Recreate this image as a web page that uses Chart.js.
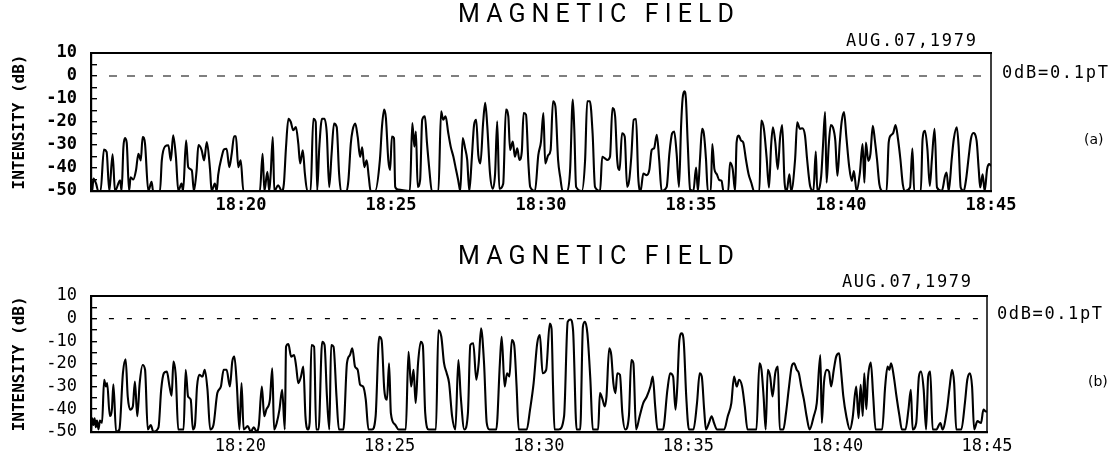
<!DOCTYPE html>
<html><head><meta charset="utf-8">
<script src="https://cdn.jsdelivr.net/npm/chart.js@4.4.1/dist/chart.umd.min.js"></script>
<style>
html,body{margin:0;padding:0;background:#fff;}
#wrap{position:relative;width:1111px;height:462px;overflow:hidden;}
canvas{position:absolute;left:0;}
#ca{top:0;}
#cb{top:231px;}
</style></head><body>
<div id="wrap"><canvas id="ca" width="1111" height="231"></canvas><canvas id="cb" width="1111" height="231"></canvas></div>
<script>
const titleText = 'MAGNETIC FIELD';
const dateText = 'AUG.07,1979';
const refText = '0dB=0.1pT';
const panelLabels = ['(a)', '(b)'];
const yAxisTitle = 'INTENSITY (dB)';
// x values are minutes after 18:15
const xTickLabels = ['', '18:20', '18:25', '18:30', '18:35', '18:40', '18:45'];
const yMin = -50, yMax = 10;
const refLevel = 0;
const refSpan = [0.6, 29.7];

const timesA = [
0,0.04,0.08,0.17,0.24,0.32,0.43,0.52,0.61,0.72,
0.8,0.97,1.02,1.08,1.13,1.19,1.27,1.32,1.41,1.5,
1.58,1.66,1.72,1.8,1.91,2.02,2.07,2.3,2.36,2.47,
2.58,2.66,2.74,2.83,2.91,3.02,3.07,3.17,3.24,3.36,
3.43,3.52,3.58,3.69,3.77,3.86,3.97,4.02,4.13,4.19,
4.24,4.36,4.43,4.52,4.61,4.69,4.77,4.83,4.91,4.99,
5.08,5.63,5.72,5.78,5.88,5.94,5.99,6.06,6.11,6.24,
6.36,6.43,6.5,6.58,6.66,6.74,6.83,6.91,6.97,7.06,
7.13,7.21,7.32,7.41,7.49,7.54,7.61,7.7,7.78,7.86,
7.94,8.02,8.1,8.19,8.27,8.33,8.52,8.58,8.66,8.72,
8.81,8.89,8.97,9.04,9.11,9.19,9.26,9.32,9.47,9.63,
9.7,9.77,9.83,9.91,9.97,10.03,10.1,10.14,10.24,10.63,
10.71,10.78,10.83,10.89,10.97,11.04,11.13,11.2,11.28,11.36,
11.58,11.67,11.74,11.82,11.91,11.99,12.08,12.17,12.24,12.31,
12.39,12.47,12.54,12.61,12.69,12.77,12.84,12.91,12.98,13.07,
13.14,13.21,13.3,13.39,13.47,13.54,13.61,13.74,13.83,13.91,
13.97,14.06,14.13,14.21,14.28,14.36,14.42,14.5,14.58,14.64,
14.8,14.91,15,15.08,15.14,15.24,15.32,15.4,15.48,15.57,
15.64,15.72,15.88,15.97,16.06,16.11,16.17,16.36,16.47,16.54,
16.63,16.72,16.8,16.97,17.04,17.13,17.21,17.3,17.38,17.47,
17.54,17.62,17.7,17.79,17.87,17.94,18.01,18.09,18.17,18.24,
18.32,18.41,18.52,18.61,18.69,18.77,18.86,18.94,19.02,19.19,
19.28,19.37,19.44,19.52,19.6,19.67,19.72,19.78,19.83,19.89,
19.97,20.08,20.17,20.23,20.3,20.37,20.43,20.5,20.56,20.66,
20.71,20.78,20.86,20.94,21.02,21.08,21.24,21.3,21.39,21.47,
21.52,21.59,21.67,21.74,21.83,21.92,22.01,22.1,22.28,22.34,
22.43,22.52,22.6,22.67,22.73,22.81,22.89,22.97,23.04,23.12,
23.19,23.28,23.34,23.47,23.54,23.63,23.71,23.8,23.87,23.97,
24.08,24.16,24.21,24.34,24.4,24.47,24.52,24.59,24.66,24.73,
24.81,24.88,24.96,25.02,25.1,25.18,25.27,25.36,25.43,25.52,
25.63,25.72,25.78,25.83,25.91,25.98,26.06,26.13,26.2,26.28,
26.39,26.52,26.59,26.67,26.74,26.82,26.9,26.98,27.06,27.14,
27.3,27.38,27.44,27.66,27.72,27.8,27.88,27.96,28.03,28.12,
28.2,28.36,28.47,28.52,28.59,28.69,28.76,28.86,28.92,28.99,
29.09,29.17,29.26,29.33,29.41,29.52,29.59,29.64,29.72,29.79,
29.87,29.94,30];
const valuesA = [
-50,-50,-44.6,-46.8,-50,-50,-32,-33,-50,-34,
-50,-45.4,-50,-31,-27,-29,-50,-44,-45,-41,
-33.8,-36.7,-26.5,-29.4,-50,-46,-50,-50,-36.7,-30.6,
-30.1,-36.7,-25.8,-35.2,-50,-46.8,-50,-28,-39.6,-41,
-50,-41,-30,-32.3,-36.7,-28.7,-41,-50,-46.8,-50,
-43,-35,-32,-31.6,-39.6,-33.8,-26.2,-26.2,-39.6,-36.7,
-50,-50,-33.8,-50,-41.7,-50,-42.5,-26.5,-50,-47.5,
-50,-46.8,-31,-18.6,-20,-23.6,-22.2,-29.4,-38,-32.3,
-42.5,-50,-50,-18.6,-20,-49.7,-31,-18.6,-18.6,-25,
-48.3,-33.8,-20.7,-22.2,-42.5,-50,-50,-45.4,-29.4,-23.6,
-20.7,-26.5,-35.2,-31,-39.6,-36.7,-44,-50,-50,-36.5,
-21.9,-14.6,-18.3,-36.5,-40.9,-26.3,-27,-48.2,-49.4,-50,
-20.5,-30.7,-24.1,-48.2,-45.3,-19,-17.5,-29.2,-40.9,-50,
-50,-15.4,-19,-17.5,-24.9,-30.7,-35.1,-40.9,-45.3,-50,
-27,-31.4,-36.5,-50,-36.5,-21.2,-19,-34.4,-38,-20.5,
-11.7,-21.9,-42.4,-49,-42.4,-19.7,-49,-46.8,-14.6,-17.5,
-32.2,-28.5,-35.1,-31.4,-36.5,-32.9,-16.1,-16.8,-38,-48.2,
-50,-34.4,-28.5,-16.1,-38,-34.4,-32.2,-11,-13.2,-36.5,
-43.9,-50,-50,-40.9,-10.2,-23.4,-48.2,-50,-36.5,-11,
-11,-24.9,-48.2,-50,-35.1,-35.8,-36.5,-35.1,-13.9,-17.5,
-36.5,-40.9,-24.9,-26.3,-48.2,-45.3,-35.1,-19,-18.7,-43.9,
-50,-42.4,-43.1,-40.9,-32.2,-31.4,-25.6,-36.5,-50,-48.2,
-33.6,-24.9,-24.1,-33.6,-48.2,-21.6,-9.9,-6.7,-9.9,-28.9,
-49.3,-50,-39.8,-50,-36.2,-23,-25.2,-36.2,-50,-50,
-29.6,-40.5,-42.7,-45.2,-45.6,-50,-50,-37.6,-40.5,-50,
-28.9,-25.9,-28.1,-28.9,-36.2,-42.7,-46.4,-50,-50,-19.4,
-23,-35.4,-48.5,-30.3,-22.3,-28.9,-40.5,-26.7,-21.3,-46.4,
-50,-42.7,-50,-36.2,-20.1,-23,-22.7,-25.9,-36.2,-47.8,
-50,-32.9,-50,-43.4,-30.3,-15.7,-46.4,-30.3,-21.3,-22.3,
-28.1,-43.4,-28.9,-20.1,-15.7,-26.7,-39.1,-45.6,-41.3,-50,
-42,-29.6,-46.4,-28.9,-36.9,-34,-21.6,-28.1,-36.2,-47.1,
-50,-50,-28.9,-25.7,-24.8,-21.3,-27.4,-36.2,-47.1,-50,
-48.5,-31.5,-50,-50,-27.4,-23.8,-31.8,-47.8,-36.2,-23,
-48.5,-50,-43.4,-42,-50,-36.2,-27.4,-22.3,-30.3,-48.5,
-50,-44.9,-34.7,-27.4,-24.8,-28.1,-40.5,-48.5,-42.7,-50,
-40.5,-38.3,-39.1];

const timesB = [
0,0.04,0.08,0.12,0.16,0.2,0.25,0.3,0.37,0.44,
0.5,0.54,0.63,0.7,0.75,0.84,0.95,1.07,1.16,1.23,
1.31,1.4,1.47,1.55,1.63,1.73,1.81,1.9,2,2.09,
2.26,2.35,2.44,2.54,2.63,2.7,2.76,2.84,2.92,3.1,
3.17,3.25,3.34,3.41,3.48,3.55,3.63,3.73,3.81,3.9,
3.99,4.1,4.23,4.35,4.44,4.54,4.65,4.73,4.8,4.88,
4.97,5.04,5.11,5.25,5.35,5.45,5.55,5.62,5.72,5.8,
5.87,5.99,6.07,6.13,6.22,6.31,6.4,6.49,6.53,6.61,
6.7,6.8,6.87,6.94,7.03,7.11,7.18,7.26,7.32,7.38,
7.47,7.54,7.62,7.74,7.82,7.9,7.98,8.04,8.12,8.22,
8.3,8.45,8.57,8.67,8.75,8.84,8.93,9.01,9.11,9.2,
9.29,9.41,9.53,9.65,9.73,9.82,9.91,9.98,10.04,10.18,
10.3,10.54,10.63,10.72,10.8,10.87,10.95,11.04,11.11,11.19,
11.31,11.55,11.63,11.73,11.82,11.91,11.99,12.09,12.2,12.3,
12.38,12.5,12.62,12.7,12.8,12.9,12.98,13.06,13.16,13.25,
13.34,13.57,13.69,13.75,13.85,13.93,14.01,14.09,14.17,14.25,
14.32,14.59,14.7,14.82,14.94,15.03,15.12,15.24,15.36,15.42,
15.47,15.52,15.66,15.84,15.96,16.05,16.14,16.26,16.38,16.47,
16.54,16.62,16.72,16.8,16.98,17.04,17.13,17.2,17.26,17.35,
17.42,17.49,17.56,17.62,17.71,17.79,17.89,18.01,18.09,18.16,
18.25,18.37,18.49,18.61,18.73,18.81,18.89,18.97,19.15,19.3,
19.39,19.49,19.57,19.63,19.7,19.78,19.85,19.93,20.02,20.17,
20.29,20.38,20.45,20.53,20.59,20.69,20.78,20.86,20.96,21.2,
21.32,21.44,21.53,21.62,21.7,21.8,21.89,21.98,22.28,22.38,
22.45,22.52,22.59,22.66,22.74,22.82,22.91,23,23.06,23.18,
23.27,23.36,23.46,23.54,23.63,23.7,23.78,23.87,23.96,24.06,
24.2,24.3,24.42,24.47,24.54,24.63,24.71,24.78,24.87,24.95,
25.05,25.11,25.19,25.29,25.41,25.5,25.62,25.7,25.77,25.84,
25.89,25.96,26.01,26.11,26.19,26.27,26.49,26.59,26.67,26.73,
26.79,26.88,26.97,27.07,27.15,27.27,27.37,27.45,27.51,27.63,
27.72,27.79,27.88,27.96,28.03,28.1,28.18,28.3,28.44,28.51,
28.66,28.75,28.83,28.9,28.97,29.14,29.26,29.34,29.43,29.5,
29.57,29.68,29.8,29.88,29.96,30];
const valuesB = [
-50,-44,-47,-44,-48,-45,-49,-45,-46,-27,
-30,-28.5,-43,-40,-29,-50,-49,-24,-18,-34.4,
-40.2,-38.8,-27.8,-43.1,-28.5,-20.5,-22.6,-49,-47,-50,
-48,-31.4,-24.1,-23.4,-30,-34,-19,-25.6,-49,-49,
-22.6,-34.4,-35.8,-49,-47,-30,-24.8,-25.6,-22.6,-31.4,
-49,-47,-32.9,-30,-22.6,-22.6,-30,-19,-16.8,-28.5,
-49,-28.5,-49,-47.5,-50,-48,-50,-47,-30,-43.1,
-40.2,-35.8,-21.9,-49,-46,-40.2,-31.4,-49,-12.4,-11.2,
-16.8,-16.1,-21.2,-28.5,-25.6,-21.2,-43.1,-49,-46,-11.7,
-12.4,-49,-49,-10.2,-11.7,-34.4,-49,-11.7,-12.4,-34.4,
-49,-49,-19.7,-16.1,-13.1,-21.2,-22.6,-29.2,-30,-35.8,
-49,-49,-43.1,-8,-9.5,-31.4,-35.8,-19.7,-41.7,-46.8,
-49,-49,-14.6,-30,-22.6,-37.3,-19.7,-10.2,-11.7,-41.7,
-49,-49,-5.1,-8,-19.7,-24.1,-28.5,-43.1,-49,-18.3,
-34.4,-49,-41.7,-11.7,-10.9,-27,-19.7,-4.3,-19.7,-46.1,
-49,-49,-19.7,-8,-30,-24.1,-25.6,-9.5,-11.7,-30,
-49,-49,-40.2,-28.5,-10.9,-7.3,-24.1,-22.6,-2.2,-4.5,
-30,-49,-49,-43.1,-1.4,-0.4,-5.1,-49,-49,-3.6,
-1.4,-6.5,-27,-49,-49,-32.9,-35.8,-38.8,-34.4,-13.1,
-16.1,-28.5,-32.9,-24.1,-24.8,-41.7,-49,-43.1,-18.3,-19.7,
-49,-43.1,-37.3,-34.4,-30,-25.6,-38.8,-49,-49,-31.4,
-24.1,-25.6,-40.2,-30,-9.5,-6.5,-10.9,-34.4,-49,-49,
-37.3,-24.1,-25.6,-40.2,-49,-46.1,-43.1,-46.1,-49,-49,
-43.1,-37.3,-25.6,-30,-27,-30,-38.8,-49,-49,-19.7,
-22.6,-34.4,-49,-22.6,-25.6,-34.4,-24.1,-21.2,-49,-49,
-41.7,-31.4,-21.2,-19.7,-22.6,-24.1,-30,-35.8,-43.1,-49,
-43.1,-37.3,-16.1,-46.1,-28.5,-22.6,-23.4,-30,-22.6,-16.8,
-15.3,-22.6,-34.4,-43.1,-49,-44,-30,-44,-29.2,-43,
-24.1,-40,-27,-19.4,-34.4,-49,-49,-30,-21.2,-22.6,
-19.7,-25.6,-34.4,-43.1,-49,-49,-40.2,-31.4,-49,-46.1,
-25.6,-23.4,-31.4,-49,-25.6,-23.4,-49,-49,-46.1,-49,
-40.2,-30,-22.6,-28.5,-49,-49,-37.3,-27,-24.1,-30,
-49,-45.3,-46.1,-40.2,-41,-41];

function drawSpaced(ctx, text, x, y, width, font) {
  ctx.font = font;
  ctx.letterSpacing = '0px';
  const w0 = ctx.measureText(text).width;
  const sp = (width - w0) / (text.length - 1);
  ctx.letterSpacing = sp.toFixed(2) + 'px';
  ctx.textAlign = 'left';
  ctx.fillText(text, x, y);
  ctx.letterSpacing = '0px';
}

function makePanel(id, times, values, o) {
  const pts = times.map((t, i) => ({x: t, y: values[i]}));
  const deco = {
    id: 'deco' + id,
    afterDraw(chart) {
      const ctx = chart.ctx, a = chart.chartArea;
      const y0 = chart.scales.y.getPixelForValue(refLevel);
      ctx.save();
      ctx.strokeStyle = '#000';
      ctx.lineWidth = 2.2;
      ctx.beginPath(); ctx.moveTo(a.left - 1, a.top); ctx.lineTo(a.right + 1, a.top); ctx.stroke();
      ctx.lineWidth = 1.5;
      ctx.beginPath(); ctx.moveTo(a.right, a.top); ctx.lineTo(a.right, a.bottom); ctx.stroke();
      ctx.fillStyle = '#000';
      ctx.textBaseline = 'middle';
      drawSpaced(ctx, titleText, o.titleX, o.titleY, o.titleW, "400 25px Roboto");
      drawSpaced(ctx, dateText, o.dateX, o.dateY, o.dateW, "17px 'DejaVu Sans Mono'");
      drawSpaced(ctx, refText, o.refX, y0 + o.refDy, o.refW, "17px 'DejaVu Sans Mono'");
      ctx.font = "14px 'DejaVu Sans'";
      ctx.textAlign = 'left';
      ctx.fillText(o.label, o.labelX, o.labelY);
      ctx.restore();
    }
  };
  return new Chart(document.getElementById(id), {
    type: 'line',
    data: {datasets: [
      {data: pts, borderColor: '#000', borderWidth: 2.1, pointRadius: 0, cubicInterpolationMode: 'monotone', fill: false},
      {data: [{x: refSpan[0], y: refLevel}, {x: refSpan[1], y: refLevel}], borderColor: '#000', borderWidth: 1.2, borderDash: o.dash, pointRadius: 0, fill: false}
    ]},
    options: {
      responsive: false, animation: false, devicePixelRatio: 1,
      layout: {padding: {top: o.top, right: o.right, left: 0, bottom: 0}},
      plugins: {legend: {display: false}, tooltip: {enabled: false}, title: {display: false}},
      scales: {
        x: {
          type: 'linear', min: 0, max: 30,
          grid: {display: false, drawTicks: false},
          border: {display: true, color: '#000', width: 2.2},
          ticks: {stepSize: 5, autoSkip: false, maxRotation: 0, padding: o.xpad, color: '#000',
            font: {family: 'DejaVu Sans Mono', size: 17, weight: o.tickWeight},
            callback: (v) => { const k = Math.round(v / 5); return xTickLabels[k] !== undefined ? xTickLabels[k] : ''; }},
          afterFit: (s) => { s.height = o.xh; }
        },
        y: {
          type: 'linear', min: yMin, max: yMax,
          grid: {display: true, drawOnChartArea: false, drawTicks: true, tickLength: -6, color: '#000', lineWidth: 1.4},
          border: {display: true, color: '#000', width: 2.2},
          ticks: {stepSize: 5, autoSkip: false, padding: 20, color: '#000',
            font: {family: 'DejaVu Sans Mono', size: 17, weight: o.tickWeight},
            callback: (v) => (Math.round(v) % 10 === 0 ? String(Math.round(v)) : '')},
          title: {display: true, text: yAxisTitle, color: '#000',
            font: {family: 'DejaVu Sans Mono', size: 16, weight: 'bold'}, padding: {top: 10, bottom: 0}},
          afterFit: (s) => { s.width = 91; }
        }
      }
    },
    plugins: [deco]
  });
}

makePanel('ca', timesA, valuesA, {
  top: 53, right: 120, xh: 40, xpad: 4, dash: [8, 10], tickWeight: 'bold',
  titleX: 458, titleY: 16, titleW: 276,
  dateX: 846, dateY: 42, dateW: 130,
  refX: 1002, refDy: -2, refW: 106,
  label: panelLabels[0], labelX: 1084, labelY: 140
});
makePanel('cb', timesB, valuesB, {
  top: 65, right: 124, xh: 29, xpad: 5, dash: [5, 13], tickWeight: 'normal',
  titleX: 458, titleY: 27, titleW: 276,
  dateX: 842, dateY: 52, dateW: 129,
  refX: 997, refDy: -4, refW: 105,
  label: panelLabels[1], labelX: 1088, labelY: 151
});
</script>
</body></html>
